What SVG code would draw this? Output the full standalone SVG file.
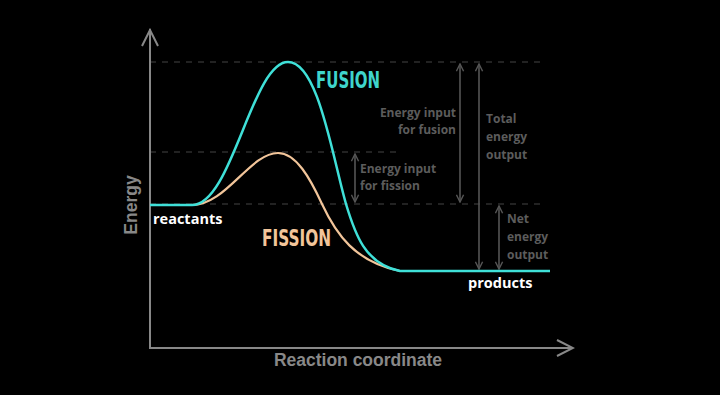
<svg xmlns="http://www.w3.org/2000/svg" width="720" height="395" viewBox="0 0 720 395">
<defs>
<marker id="ah" viewBox="0 0 10 10" refX="9" refY="5" markerWidth="9" markerHeight="9" orient="auto-start-reverse" markerUnits="userSpaceOnUse"><path d="M1,1 L9,5 L1,9" fill="none" stroke="#555" stroke-width="1.6"/></marker>
<marker id="axh" viewBox="0 0 20 20" refX="18" refY="10" markerWidth="20" markerHeight="20" orient="auto" markerUnits="userSpaceOnUse"><path d="M2,2 L18,10 L2,18" fill="none" stroke="#888" stroke-width="2"/></marker>
<style>
.dash{stroke:#444;stroke-width:1.2;stroke-dasharray:6,6;fill:none}
.axis{stroke:#888;stroke-width:2;fill:none}
.arr{stroke:#555;stroke-width:1.6;fill:none}
.lbl{font-family:"Open Sans","DejaVu Sans",sans-serif;font-weight:bold;font-size:12px;fill:#5c5c5c}
.wht{font-family:"Open Sans","DejaVu Sans",sans-serif;font-weight:bold;font-size:14.5px;fill:#fff}
.ttl{font-family:"DejaVu Sans Condensed","DejaVu Sans",sans-serif;font-weight:bold;font-size:23px}
.ax{font-family:"Liberation Sans",Arial,sans-serif;font-weight:bold;font-size:17.5px;fill:#888}
</style>
</defs>
<rect width="720" height="395" fill="#000"/>
<g id="guides">
<line class="dash" x1="150" y1="62" x2="545" y2="62"/>
<line class="dash" x1="150" y1="152" x2="398" y2="152"/>
<line class="dash" x1="150" y1="204" x2="545" y2="204"/>
</g>
<g id="axes">
<polyline class="axis" points="150,29 150,348 573,348" marker-end="url(#axh)"/>
<line class="axis" x1="150" y1="348" x2="150" y2="30" marker-end="url(#axh)"/>
<text class="ax" transform="translate(137,205) rotate(-90)" text-anchor="middle">Energy</text>
<text class="ax" x="358" y="366" text-anchor="middle" font-size="18">Reaction coordinate</text>
</g>
<g id="connectors">
<line class="arr" x1="460" y1="64" x2="460" y2="202" marker-start="url(#ah)" marker-end="url(#ah)"/>
<line class="arr" x1="479" y1="64" x2="479" y2="269" marker-start="url(#ah)" marker-end="url(#ah)"/>
<line class="arr" x1="355" y1="154" x2="355" y2="202" marker-start="url(#ah)" marker-end="url(#ah)"/>
<line class="arr" x1="499" y1="206" x2="499" y2="269" marker-start="url(#ah)" marker-end="url(#ah)"/>
</g>
<g id="fission">
<path d="M192,205 C226,205 250,153 278,153 C296,153 310,178 322,204 C336,234 355,262 400,271" fill="none" stroke="#f2c59a" stroke-width="2.2"/>
<text class="ttl" x="262" y="246" fill="#f2c59a" textLength="69" lengthAdjust="spacingAndGlyphs">FISSION</text>
</g>
<g id="fusion">
<path d="M150,205 L192,205 C232,205 252,62 288,62 C318,62 332,155 346,204 C355,234 365,264 400,271 L550,271" fill="none" stroke="#3fe0d8" stroke-width="2.5"/>
<text class="ttl" x="316" y="88" fill="#3fd5cc" textLength="64" lengthAdjust="spacingAndGlyphs">FUSION</text>
</g>
<g id="reactants"><text class="wht" x="153" y="224">reactants</text></g>
<g id="products"><text class="wht" x="468" y="288" font-size="15">products</text></g>
<g id="input-fusion"><text class="lbl" x="456" y="117" text-anchor="end">Energy input</text><text class="lbl" x="456" y="134" text-anchor="end">for fusion</text></g>
<g id="total-output"><text class="lbl" x="486" y="123">Total</text><text class="lbl" x="486" y="141">energy</text><text class="lbl" x="486" y="159">output</text></g>
<g id="input-fission"><text class="lbl" x="360" y="173">Energy input</text><text class="lbl" x="360" y="190">for fission</text></g>
<g id="net-output"><text class="lbl" x="507" y="223">Net</text><text class="lbl" x="507" y="241">energy</text><text class="lbl" x="507" y="259">output</text></g>
</svg>
